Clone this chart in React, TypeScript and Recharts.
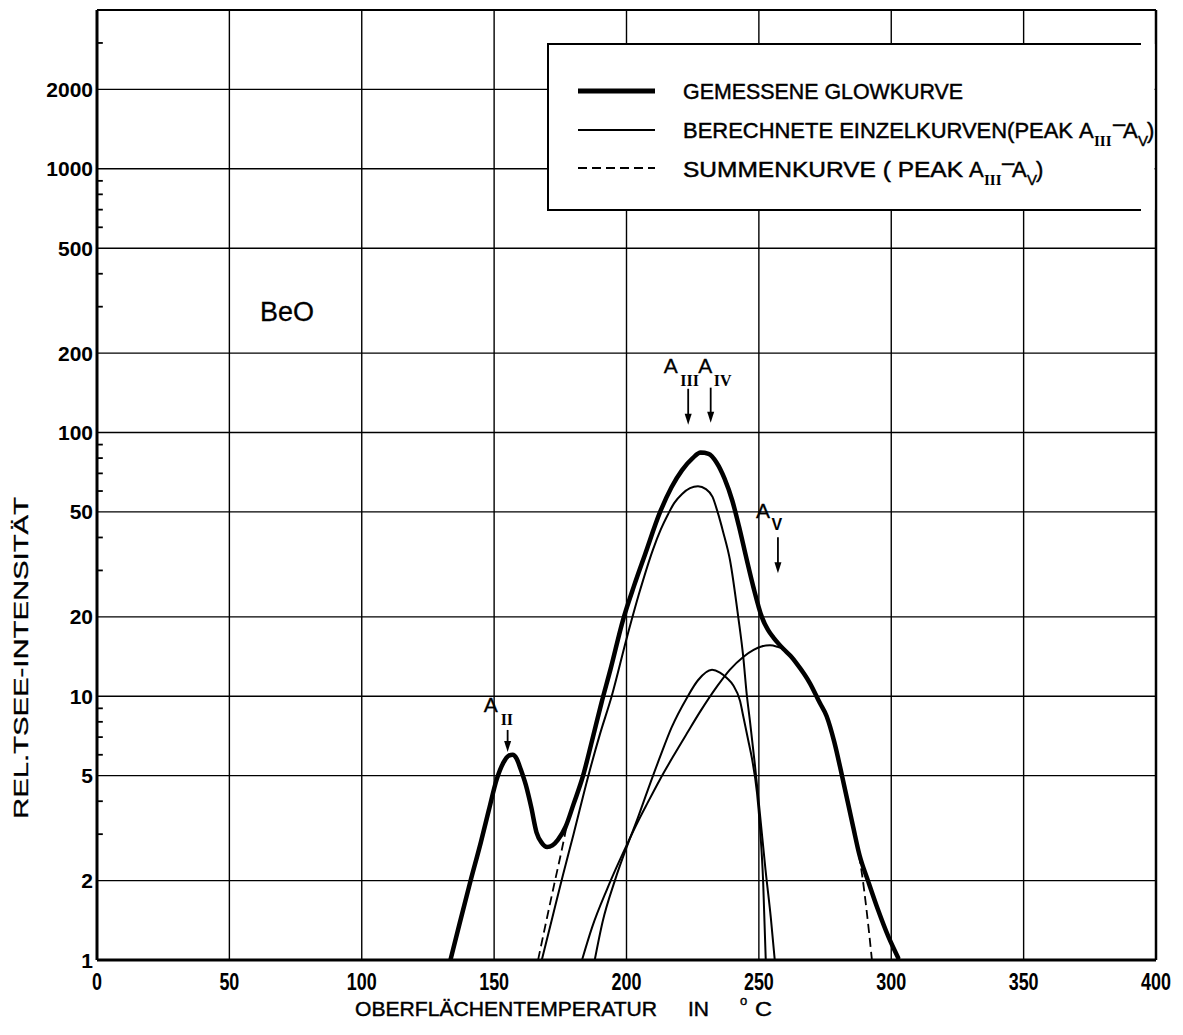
import React from 'react';
import { ComposedChart, Line, XAxis, YAxis, CartesianGrid, ReferenceLine } from 'recharts';

// ---------- axes ----------
const xTicks = [0, 50, 100, 150, 200, 250, 300, 350, 400];
const yTicks = [1, 2, 5, 10, 20, 50, 100, 200, 500, 1000, 2000];
const yMinorTicks = [3, 4, 6, 7, 8, 9, 30, 40, 60, 70, 80, 90, 300, 400, 600, 700, 800, 900, 3000];
const X_DOMAIN: [number, number] = [0, 400];
const Y_DOMAIN: [number, number] = [1, 4000];

// ---------- measured glow curve (thick) ----------
const glowT = [133.5, 137, 141, 145, 148, 151, 153.5, 155.5, 157, 158.5, 160, 162, 164, 166, 168, 170, 172, 174, 177, 180, 183.6, 187, 190.5, 194, 198.7, 203, 207, 212.7, 217, 221, 225, 228, 231, 234, 237, 240, 242.5, 245.4, 247.9, 251.1, 253.5, 255.5, 257.5, 259.3, 262, 264.3, 269.3, 273.1, 275.6, 278.5, 281.4, 285.6, 288, 291.2, 295, 299, 302.6];
const glowV = [1, 1.38, 1.98, 2.8, 3.7, 4.85, 5.6, 5.95, 6.0, 5.8, 5.3, 4.6, 3.8, 3.05, 2.78, 2.68, 2.72, 2.85, 3.2, 3.9, 5.0, 6.8, 9.4, 12.7, 19.5, 26.5, 34.5, 50, 62, 72, 80, 84, 83, 77, 67, 55, 44, 33, 26, 20, 17.8, 16.7, 15.8, 15.1, 14.2, 13.3, 11.2, 9.4, 8.4, 6.7, 5.0, 3.2, 2.5, 2.0, 1.55, 1.22, 1.02];

// ---------- computed single curves (thin) ----------
const a3T = [168, 172, 176, 180, 185.6, 190, 194.4, 200, 205, 210, 213, 215.7, 218, 221, 224, 227, 230, 232.5, 234.4, 236.5, 239.1, 242.2, 244.1, 245.4, 246.6, 248.5, 250.5, 252.5, 254.5, 256];
const a3V = [1.0, 1.45, 2.1, 3.0, 5.0, 7.2, 10, 16.5, 25, 36, 43, 49, 54, 58.5, 61.5, 62.5, 61, 57, 50, 42, 32.8, 20, 14.1, 10.2, 8.1, 5.5, 3.5, 2.2, 1.45, 1.0];

const a4T = [188, 191, 195.6, 200.6, 204, 208, 212.7, 217, 222.9, 227, 232.3, 235.3, 238, 240.3, 242.9, 244.1, 246, 247.4, 249.3, 250.4, 251.6, 252.6];
const a4V = [1, 1.4, 2.0, 2.77, 3.4, 4.4, 5.9, 7.6, 9.9, 11.5, 12.6, 12.3, 11.7, 11.0, 9.6, 8.4, 6.8, 5.8, 4.3, 3.2, 2.0, 1.0];

const a5T = [183.2, 187, 192.6, 196, 200.6, 204, 208, 212.7, 218, 222.9, 228, 234.2, 239, 244.1, 248, 251, 254.2, 257, 259.3];
const a5V = [1, 1.33, 1.85, 2.22, 2.8, 3.3, 3.95, 4.85, 6.0, 7.25, 8.8, 10.9, 12.6, 14.1, 15.0, 15.45, 15.6, 15.4, 15.1];

// ---------- sum curve (dashed) ----------
const sumT = [166.6, 170, 173, 175.5, 177.4, 180, 183.6, 187, 190.5, 194, 198.7, 203, 207, 212.7, 217, 221, 225, 228, 231, 234, 237, 240, 242.5, 245.4, 247.9, 251.1, 253.5, 255.5, 257.5, 259.3, 262, 264.3, 269.3, 273.1, 275.6, 278.5, 281.4, 285.6, 287.8, 289, 290.5, 291.7, 292.7];
const sumV = [1.0, 1.45, 2.0, 2.6, 3.2, 3.9, 5.0, 6.8, 9.4, 12.7, 19.5, 26.5, 34.5, 50, 62, 72, 80, 83, 82.5, 77, 67, 55, 44, 33, 26, 20, 17.8, 16.7, 15.8, 15.1, 14.2, 13.3, 11.2, 9.4, 8.4, 6.7, 5.0, 3.2, 2.5, 2.1, 1.6, 1.25, 1.0];

const toPts = (ts: number[], vs: number[]) => ts.map((t, i) => ({ t, v: vs[i] }));
const glowData = toPts(glowT, glowV);
const a3Data = toPts(a3T, a3V);
const a4Data = toPts(a4T, a4V);
const a5Data = toPts(a5T, a5V);
const sumData = toPts(sumT, sumV);

// ---------- layout ----------
const W = 1183;
const H = 1035;
const PLOT = { left: 97, right: 1156, top: 10, bottom: 960 };
const Y_AXIS_W = 90;
const X_AXIS_H = 40;
const SANS = "'Liberation Sans', Arial, Helvetica, sans-serif";
const SERIF = "'Liberation Serif', 'Times New Roman', serif";

const sx = (t: number) => PLOT.left + ((t - X_DOMAIN[0]) / (X_DOMAIN[1] - X_DOMAIN[0])) * (PLOT.right - PLOT.left);
const sy = (v: number) =>
  PLOT.bottom - (Math.log10(v / Y_DOMAIN[0]) / Math.log10(Y_DOMAIN[1] / Y_DOMAIN[0])) * (PLOT.bottom - PLOT.top);

// annotation arrows: tip at (t, v), arrow length in px, label offsets relative to tip
const annotations = [
  { t: 155.1, v: 6.15, len: 22, main: 'A', sub: 'II', ax: -24, ay: -40, bx: -7, by: -27 },
  { t: 223.3, v: 107, len: 36, main: 'A', sub: 'III', ax: -24.5, ay: -52, bx: -8, by: -39 },
  { t: 231.8, v: 109, len: 35, main: 'A', sub: 'IV', ax: -12.5, ay: -50, bx: 3, by: -37 },
  { t: 257.2, v: 29.3, len: 36, main: 'A', sub: 'V', ax: -22, ay: -55, bx: -6.5, by: -43 },
];

const renderXTick = (props: any) => {
  const { x, y, payload } = props;
  return (
    <text
      transform={`translate(${x},${y + 30}) scale(0.78,1)`}
      textAnchor="middle"
      fontSize={23}
      fontWeight={700}
      fontFamily={SANS}
      fill="#000"
    >
      {payload.value}
    </text>
  );
};

const renderYTick = (props: any) => {
  const { x, y, payload } = props;
  return (
    <text x={x} y={y} dy={7.5} textAnchor="end" fontSize={21} fontWeight={700} fontFamily={SANS} fill="#000">
      {payload.value}
    </text>
  );
};

const TXT = { fontFamily: SANS, fontSize: 22, fill: '#000', stroke: '#000', strokeWidth: 0.45 };

const Overlay = () => (
  <svg
    width={W}
    height={H}
    style={{ position: 'absolute', left: 0, top: 0, pointerEvents: 'none' }}
  >
    {/* legend box */}
    <rect x={548} y={44} width={1154.5 - 548} height={166} fill="#fff" />
    <line x1={548} y1={44} x2={1141} y2={44} stroke="#000" strokeWidth={2} />
    <line x1={548} y1={210} x2={1141} y2={210} stroke="#000" strokeWidth={2} />
    <line x1={548} y1={43} x2={548} y2={211} stroke="#000" strokeWidth={2} />

    <line x1={578} y1={91} x2={655} y2={91} stroke="#000" strokeWidth={5} />
    <line x1={578} y1={130} x2={655} y2={130} stroke="#000" strokeWidth={2} />
    <line x1={578} y1={168} x2={655} y2={168} stroke="#000" strokeWidth={2} strokeDasharray="9 5" />

    <g {...TXT}>
      <text x={683} y={99} textLength={280} lengthAdjust="spacingAndGlyphs">GEMESSENE  GLOWKURVE</text>
      <text x={683} y={138} textLength={390} lengthAdjust="spacingAndGlyphs">BERECHNETE EINZELKURVEN(PEAK</text>
      <text x={1079} y={138}>A</text>
      <text x={1094} y={146} fontFamily={SERIF} fontWeight={700} fontSize={15} strokeWidth={0}>III</text>
      <text x={1113} y={131}>–</text>
      <text x={1123} y={138}>A</text>
      <text x={1138} y={146} fontSize={15}>V</text>
      <text x={1147} y={138}>)</text>

      <text x={683} y={177} textLength={280} lengthAdjust="spacingAndGlyphs">SUMMENKURVE   ( PEAK</text>
      <text x={969} y={177}>A</text>
      <text x={984} y={185} fontFamily={SERIF} fontWeight={700} fontSize={15} strokeWidth={0}>III</text>
      <text x={1002} y={170}>–</text>
      <text x={1012} y={177}>A</text>
      <text x={1027} y={185} fontSize={15}>V</text>
      <text x={1036} y={177}>)</text>
    </g>

    {/* BeO label */}
    <text x={260} y={321} fontFamily={SANS} fontSize={27} fill="#000" stroke="#000" strokeWidth={0.3}>BeO</text>

    {/* peak annotations */}
    {annotations.map((a, i) => {
      const x = sx(a.t);
      const y = sy(a.v);
      return (
        <g key={i} fill="#000">
          <line x1={x} y1={y - a.len} x2={x} y2={y - 8} stroke="#000" strokeWidth={1.8} />
          <polygon points={`${x - 3.5},${y - 11} ${x + 3.5},${y - 11} ${x},${y}`} />
          <text x={x + a.ax} y={y + a.ay} fontFamily={SANS} fontSize={21} stroke="#000" strokeWidth={0.3}>{a.main}</text>
          <text x={x + a.bx} y={y + a.by} fontFamily={a.sub === 'V' ? SANS : SERIF} fontWeight={700} fontSize={16}>
            {a.sub}
          </text>
        </g>
      );
    })}

    {/* axis titles */}
    <text
      transform="translate(28,658) rotate(-90)"
      textAnchor="middle"
      fontFamily={SANS}
      fontSize={21}
      fill="#000"
      stroke="#000"
      strokeWidth={0.3}
      textLength={322}
      lengthAdjust="spacingAndGlyphs"
    >
      REL.TSEE-INTENSITÄT
    </text>
    <g {...TXT} fontSize={21}>
      <text x={355} y={1016} textLength={302} lengthAdjust="spacingAndGlyphs">OBERFLÄCHENTEMPERATUR</text>
      <text x={688} y={1016} textLength={21} lengthAdjust="spacingAndGlyphs">IN</text>
      <text x={740} y={1005} fontSize={13}>o</text>
      <text x={755} y={1016} textLength={17} lengthAdjust="spacingAndGlyphs">C</text>
    </g>
  </svg>
);

export default function App() {
  return (
    <div style={{ position: 'absolute', left: 0, top: 0, width: W, height: H, background: '#fff' }}>
      <ComposedChart
        width={W}
        height={H}
        margin={{
          top: PLOT.top,
          right: W - PLOT.right,
          bottom: H - PLOT.bottom - X_AXIS_H,
          left: PLOT.left - Y_AXIS_W,
        }}
      >
        <CartesianGrid stroke="#000" strokeWidth={1.4} />
        <XAxis
          type="number"
          dataKey="t"
          domain={X_DOMAIN}
          ticks={xTicks}
          interval={0}
          allowDataOverflow
          height={X_AXIS_H}
          tickSize={0}
          tickMargin={0}
          tickLine={false}
          tick={renderXTick}
          axisLine={{ stroke: '#000', strokeWidth: 3 }}
        />
        <YAxis
          type="number"
          scale="log"
          domain={Y_DOMAIN}
          ticks={yTicks}
          interval={0}
          allowDataOverflow
          width={Y_AXIS_W}
          tickSize={0}
          tickMargin={4}
          tickLine={false}
          tick={renderYTick}
          axisLine={{ stroke: '#000', strokeWidth: 3 }}
        />
        <ReferenceLine x={400} stroke="#000" strokeWidth={2.5} />
        <ReferenceLine y={4000} stroke="#000" strokeWidth={2} />
        {yMinorTicks.map((v) => (
          <ReferenceLine
            key={v}
            segment={[
              { x: 0, y: v },
              { x: 2.2, y: v },
            ]}
            stroke="#000"
            strokeWidth={1.8}
          />
        ))}
        <Line data={sumData} dataKey="v" type="monotone" stroke="#000" strokeWidth={1.8} strokeDasharray="9 5" dot={false} isAnimationActive={false} />
        <Line data={a3Data} dataKey="v" type="monotone" stroke="#000" strokeWidth={2} dot={false} isAnimationActive={false} />
        <Line data={a4Data} dataKey="v" type="monotone" stroke="#000" strokeWidth={2} dot={false} isAnimationActive={false} />
        <Line data={a5Data} dataKey="v" type="monotone" stroke="#000" strokeWidth={2} dot={false} isAnimationActive={false} />
        <Line data={glowData} dataKey="v" type="monotone" stroke="#000" strokeWidth={4.5} dot={false} isAnimationActive={false} strokeLinejoin="round" strokeLinecap="round" />
      </ComposedChart>
      <Overlay />
    </div>
  );
}
